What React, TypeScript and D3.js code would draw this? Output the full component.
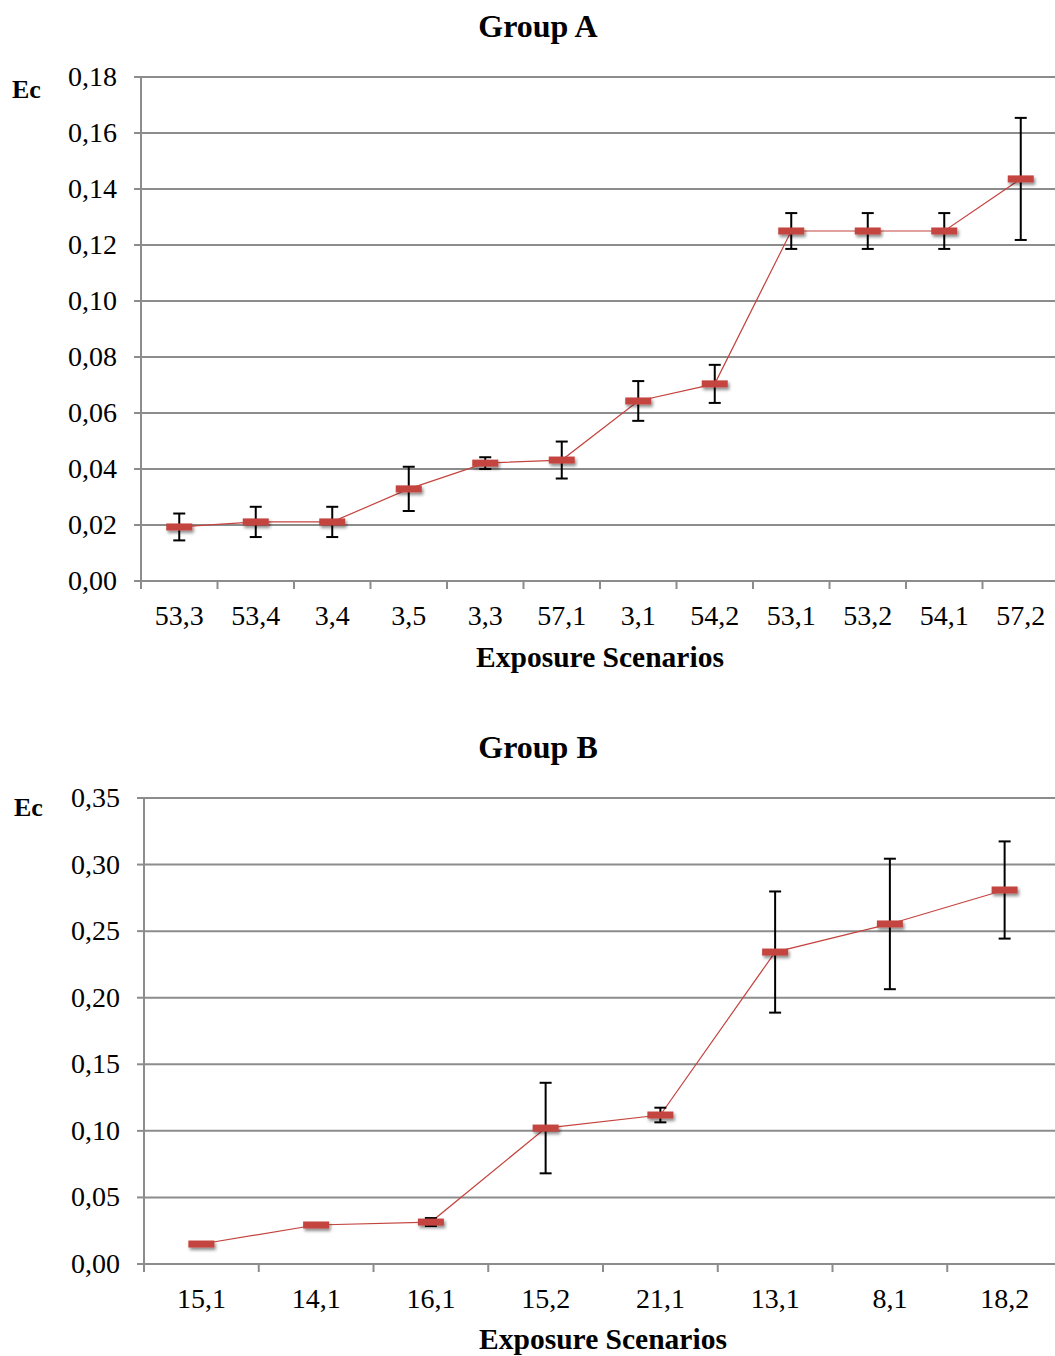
import React from "react";
import * as d3 from "d3";

// Group A data
const catsA = ["53,3", "53,4", "3,4", "3,5", "3,3", "57,1", "3,1", "54,2", "53,1", "53,2", "54,1", "57,2"];
const valsA = [0.0193, 0.0211, 0.0211, 0.0329, 0.0421, 0.0432, 0.0643, 0.0704, 0.125, 0.125, 0.125, 0.1436];
const errA = [0.0048, 0.0054, 0.0054, 0.0079, 0.0021, 0.0066, 0.0071, 0.0068, 0.0064, 0.0064, 0.0064, 0.0218];
const ticksA = [0, 0.02, 0.04, 0.06, 0.08, 0.1, 0.12, 0.14, 0.16, 0.18];

// Group B data
const catsB = ["15,1", "14,1", "16,1", "15,2", "21,1", "13,1", "8,1", "18,2"];
const valsB = [0.015, 0.0293, 0.0315, 0.1021, 0.1119, 0.2343, 0.2554, 0.2809];
const errB = [0, 0.001, 0.003, 0.034, 0.0055, 0.0455, 0.049, 0.0365];
const ticksB = [0, 0.05, 0.1, 0.15, 0.2, 0.25, 0.3, 0.35];

const FONT = "'Liberation Serif', 'Times New Roman', serif";
const GRID = "#8c8c8c";
const RED = "#c4443f";

type PanelProps = {
  title: string;
  cats: string[];
  vals: number[];
  errs: number[];
  ticks: number[];
  yMax: number;
  left: number;
  top: number;
  bottom: number;
  right: number;
  titleY: number;
  ecX: number;
  ecY: number;
  xLabelY: number;
  tickLabelY: number;
};

function Panel(p: PanelProps) {
  const x = d3.scaleBand<string>().domain(p.cats).range([p.left, p.right]);
  const y = d3.scaleLinear().domain([0, p.yMax]).range([p.bottom, p.top]);
  const line = d3
    .line<number>()
    .x((_, i) => (x(p.cats[i]) as number) + x.bandwidth() / 2)
    .y((v) => y(v));
  const bw = x.bandwidth();
  const boundaries = d3.range(p.cats.length + 1).map((i) => p.left + i * bw);
  return (
    <g>
      <text x={538} y={p.titleY} textAnchor="middle" fontFamily={FONT} fontWeight="bold" fontSize={32}>
        {p.title}
      </text>
      <text x={p.ecX} y={p.ecY} fontFamily={FONT} fontWeight="bold" fontSize={26}>
        Ec
      </text>
      {p.ticks.map((t) => (
        <g key={t}>
          {t > 0 && <line x1={p.left} x2={p.right} y1={y(t)} y2={y(t)} stroke={GRID} strokeWidth={2} />}
          <line x1={p.left - 7} x2={p.left} y1={y(t)} y2={y(t)} stroke={GRID} strokeWidth={2} />
          <text
            x={p.left - 24}
            y={y(t) + 9}
            textAnchor="end"
            fontFamily={FONT}
            fontSize={28}
          >
            {d3.format(".2f")(t).replace(".", ",")}
          </text>
        </g>
      ))}
      <line x1={p.left} x2={p.left} y1={p.top} y2={p.bottom} stroke={GRID} strokeWidth={2} />
      <line x1={p.left - 7} x2={p.right} y1={p.bottom} y2={p.bottom} stroke={GRID} strokeWidth={2} />
      {boundaries.map((bx, i) => (
        <line key={i} x1={bx} x2={bx} y1={p.bottom} y2={p.bottom + 8} stroke={GRID} strokeWidth={2} />
      ))}
      {p.cats.map((c) => (
        <text
          key={c}
          x={(x(c) as number) + bw / 2}
          y={p.tickLabelY}
          textAnchor="middle"
          fontFamily={FONT}
          fontSize={28}
        >
          {c}
        </text>
      ))}
      <text
        x={(p.left + p.right) / 2}
        y={p.xLabelY}
        textAnchor="middle"
        fontFamily={FONT}
        fontWeight="bold"
        fontSize={29.5}
      >
        Exposure Scenarios
      </text>
      <path d={line(p.vals) || ""} fill="none" stroke={RED} strokeWidth={1.2} />
      {p.vals.map((v, i) => {
        const cx = (x(p.cats[i]) as number) + bw / 2;
        const e = p.errs[i];
        if (e <= 0) return null;
        return (
          <g key={"e" + i} stroke="#000" strokeWidth={2}>
            <line x1={cx} x2={cx} y1={y(v + e)} y2={y(v - e)} />
            <line x1={cx - 6} x2={cx + 6} y1={y(v + e)} y2={y(v + e)} />
            <line x1={cx - 6} x2={cx + 6} y1={y(v - e)} y2={y(v - e)} />
          </g>
        );
      })}
      {p.vals.map((v, i) => {
        const cx = (x(p.cats[i]) as number) + bw / 2;
        return (
          <rect
            key={"m" + i}
            x={cx - 13}
            y={y(v) - 3.5}
            width={26}
            height={7}
            fill={RED}
            filter="url(#mshadow)"
          />
        );
      })}
    </g>
  );
}

export default function App() {
  return (
    <svg width={1055} height={1356} style={{ display: "block", position: "absolute", left: 0, top: 0 }}>
      <defs>
        <filter id="mshadow" x="-50%" y="-100%" width="200%" height="300%">
          <feDropShadow dx={1.5} dy={2.5} stdDeviation={1.8} floodColor="#000" floodOpacity={0.45} />
        </filter>
      </defs>
      <rect width={1055} height={1356} fill="#fff" />
      <Panel
        title="Group A"
        cats={catsA}
        vals={valsA}
        errs={errA}
        ticks={ticksA}
        yMax={0.18}
        left={141}
        right={1059}
        top={77}
        bottom={581}
        titleY={37}
        ecX={12}
        ecY={98}
        tickLabelY={625}
        xLabelY={667}
      />
      <Panel
        title="Group B"
        cats={catsB}
        vals={valsB}
        errs={errB}
        ticks={ticksB}
        yMax={0.35}
        left={144}
        right={1062}
        top={798}
        bottom={1264}
        titleY={758}
        ecX={14}
        ecY={816}
        tickLabelY={1308}
        xLabelY={1349}
      />
    </svg>
  );
}
